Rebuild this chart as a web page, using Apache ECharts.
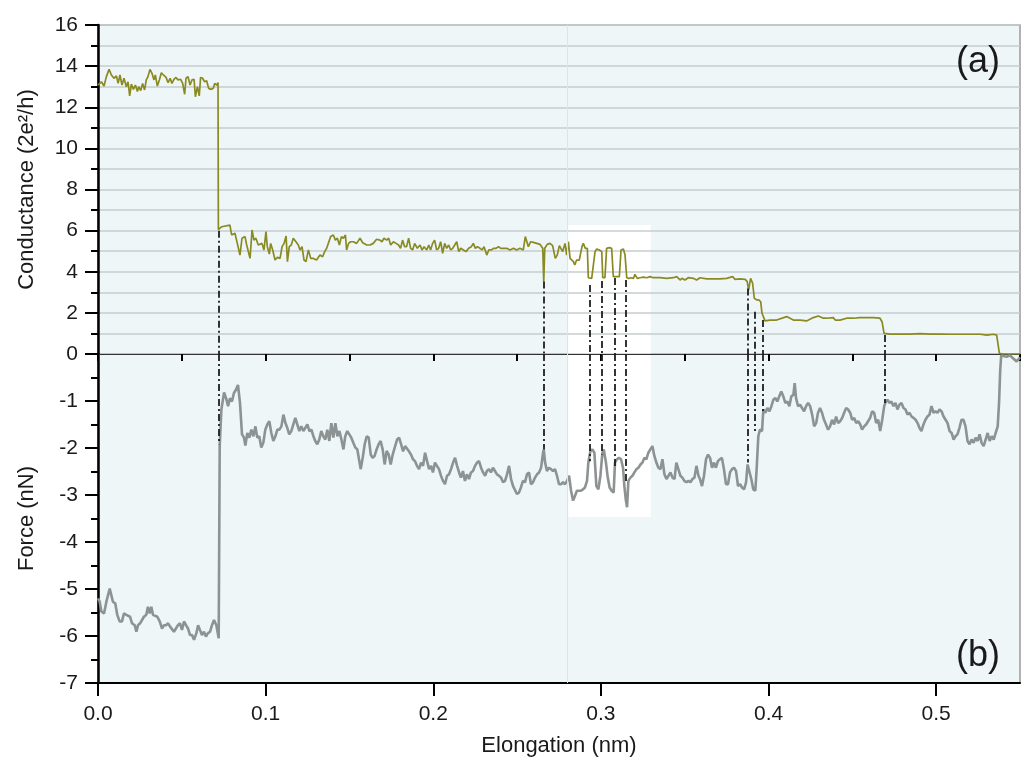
<!DOCTYPE html>
<html><head><meta charset="utf-8">
<script src="https://cdn.jsdelivr.net/npm/echarts@6/dist/echarts.min.js"></script>
<style>html,body{margin:0;padding:0;background:#fff}#c{width:1024px;height:769px}</style>
</head><body><div id="c"></div>
<script>
// Elongation (nm) vs conductance (2e^2/h)
const conductance = [
[0,13.08],[0.002,13.24],[0.0036,13.03],[0.005,13.49],[0.0066,13.84],[0.008,13.57],[0.0095,13.41],[0.011,13.52],[0.012,13.16],[0.0131,13.57],
[0.0143,13.08],[0.0155,13.41],[0.0169,13.0],[0.0179,13.24],[0.0189,12.55],[0.0199,13.13],[0.0211,12.87],[0.0223,13.08],[0.0235,12.76],[0.0243,13.0],
[0.0255,12.81],[0.0266,13.16],[0.0278,12.84],[0.0288,13.33],[0.0298,13.49],[0.031,13.84],[0.0322,13.65],[0.0334,13.33],[0.0342,13.57],[0.0354,13.03],
[0.0366,13.33],[0.0378,13.68],[0.039,13.57],[0.0406,13.45],[0.0418,13.2],[0.043,13.41],[0.0441,13.16],[0.0453,13.36],[0.0465,13.45],[0.0477,13.33],
[0.0493,13.36],[0.0505,13.16],[0.0517,12.63],[0.0525,13.41],[0.0537,13.49],[0.0549,13.08],[0.0561,13.33],[0.0573,13.36],[0.0581,12.51],[0.0593,13.0],
[0.0604,12.55],[0.0612,13.45],[0.0624,13.41],[0.0636,13.24],[0.0648,13.29],[0.066,12.92],[0.0676,12.87],[0.0688,12.92],[0.0696,13.16],[0.0708,13.08],
[0.0716,13.2],[0.0718,6.05],
[0.0724,6.11],[0.0738,6.19],[0.0787,6.27],[0.0797,5.79],[0.0817,5.87],[0.0831,5.38],[0.0847,4.81],[0.0859,5.63],[0.0877,5.71],[0.0887,5.30],
[0.0907,4.65],[0.0919,6.03],[0.093,5.54],[0.0942,5.63],[0.0956,5.30],[0.0966,5.22],[0.0978,5.38],[0.099,5.06],[0.1002,5.95],[0.101,5.22],
[0.1022,4.86],[0.103,5.38],[0.1042,5.06],[0.1056,4.57],[0.107,4.70],[0.1086,4.65],[0.1098,5.22],[0.111,5.38],[0.1122,5.74],[0.113,4.49],
[0.1141,5.22],[0.1153,5.30],[0.1165,5.63],[0.1181,5.46],[0.1195,5.30],[0.1205,5.06],[0.1217,5.22],[0.1229,4.57],[0.1241,4.49],[0.1255,5.06],
[0.1269,4.65],[0.1285,4.65],[0.1304,4.57],[0.1324,4.81],[0.134,4.73],[0.1352,4.98],[0.1364,5.14],[0.1374,5.38],[0.1388,5.71],[0.1404,5.79],
[0.1416,5.54],[0.1428,5.63],[0.144,5.30],[0.1452,5.71],[0.1464,5.63],[0.1476,5.79],[0.1483,5.06],[0.1495,5.38],[0.1507,5.46],[0.1523,5.46],
[0.1543,5.38],[0.1563,5.63],[0.1579,5.41],[0.1603,5.30],[0.1623,5.30],[0.1642,5.38],[0.1662,5.58],[0.1682,5.54],[0.1694,5.46],[0.1706,5.63],
[0.1722,5.54],[0.1734,5.63],[0.1746,5.30],[0.1762,5.46],[0.1778,5.38],[0.1793,5.30],[0.1805,5.14],[0.1817,5.54],[0.1829,5.22],[0.1841,5.22],
[0.1853,5.63],[0.1865,5.14],[0.1877,5.06],[0.1889,5.38],[0.1905,5.14],[0.1921,5.30],[0.1933,5.06],[0.1945,5.22],[0.1961,5.06],[0.1973,5.30],
[0.1984,5.06],[0.1996,5.38],[0.2008,5.54],[0.202,5.06],[0.2032,5.14],[0.2044,5.46],[0.2056,4.90],[0.2068,5.38],[0.208,5.14],[0.2092,5.30],
[0.2104,5.06],[0.2116,5.14],[0.2128,5.30],[0.214,5.46],[0.2152,4.98],[0.2164,5.14],[0.218,5.06],[0.2195,4.98],[0.2211,5.14],[0.2227,5.22],
[0.2239,5.38],[0.2251,5.14],[0.2263,5.22],[0.2279,5.14],[0.2291,5.06],[0.2303,5.22],[0.2319,4.81],[0.2331,5.06],[0.2347,5.06],[0.2359,5.14],
[0.2374,5.14],[0.239,5.22],[0.2402,5.14],[0.2418,5.14],[0.2438,5.14],[0.2458,5.06],[0.2478,5.14],[0.2497,5.06],[0.2517,5.14],[0.2537,5.06],
[0.2549,5.71],[0.2567,5.22],[0.2581,5.46],[0.2597,5.43],[0.2617,5.38],[0.2637,5.33],[0.2653,5.14],[0.2659,3.52],[0.2665,5.14],[0.268,5.33],
[0.2696,5.38],[0.2712,5.27],[0.2728,4.65],[0.274,4.82],[0.2752,5.27],
[0.2772,4.98],[0.2786,5.38],[0.2796,4.81],[0.2806,5.46],[0.2816,4.65],[0.2826,4.57],[0.2836,4.49],[0.2844,4.33],[0.2855,4.57],[0.2871,4.57],
[0.2879,4.49],[0.2887,5.22],[0.2895,5.38],[0.2907,5.14],[0.2919,5.14],[0.2925,3.71],[0.2945,3.68],[0.2955,3.68],[0.2965,4.98],[0.2975,5.11],
[0.2991,5.06],[0.3005,4.98],[0.3011,3.71],[0.3024,3.71],[0.3034,5.14],[0.305,5.17],[0.3064,5.14],[0.3074,3.76],[0.3094,3.76],[0.311,3.76],
[0.312,5.06],[0.3134,5.11],[0.3144,4.81],[0.3154,3.71],[0.3166,3.68],[0.3182,3.71],[0.3194,3.68],[0.3203,3.87],[0.3217,3.68],[0.3233,3.71],
[0.3253,3.74],[0.3273,3.71],[0.3293,3.76],[0.3313,3.71],[0.3352,3.71],[0.3392,3.68],[0.3432,3.71],[0.3452,3.76],[0.3472,3.60],[0.3484,3.68],
[0.3501,3.60],[0.3521,3.71],[0.3551,3.68],[0.3571,3.60],[0.3591,3.71],[0.3631,3.65],[0.367,3.65],[0.371,3.65],[0.375,3.68],[0.3786,3.76],
[0.38,3.63],[0.3829,3.65],[0.3861,3.63],[0.3873,3.52],[0.3881,3.11],[0.3893,3.68],[0.3905,3.44],[0.3915,2.71],[0.3929,2.63],[0.3941,2.63],
[0.3953,2.55],[0.3961,1.98],[0.3969,1.82],[0.3979,1.61],[0.4008,1.65],[0.4048,1.65],[0.4108,1.82],[0.4148,1.65],[0.4188,1.65],[0.4227,1.61],
[0.4267,1.77],[0.4297,1.85],[0.4327,1.74],[0.4347,1.74],[0.4386,1.77],[0.4398,1.65],[0.4426,1.65],[0.4466,1.74],[0.4506,1.74],[0.4545,1.77],
[0.4585,1.77],[0.4625,1.77],[0.4665,1.74],[0.4677,1.57],[0.4689,1.00],[0.4725,0.97],[0.4784,0.97],[0.4844,0.97],[0.4904,0.99],[0.4964,0.97],
[0.5023,0.97],[0.5083,0.96],[0.5143,0.96],[0.5202,0.96],[0.5262,0.96],[0.5302,0.92],[0.5342,0.96],[0.5361,0.92],[0.5377,0.03],[0.5401,0],[0.55,0]
];

// Elongation (nm) vs force (nN)
const force = [
[0,-5.20],[0.001,-5.27],[0.002,-5.48],[0.0036,-5.52],[0.005,-5.27],[0.006,-5.13],[0.007,-4.99],[0.008,-5.03],[0.0089,-5.27],[0.0103,-5.31],
[0.0115,-5.55],[0.0129,-5.69],[0.0143,-5.69],[0.0155,-5.52],[0.0169,-5.55],[0.0179,-5.52],[0.0191,-5.59],[0.0203,-5.73],[0.0219,-5.77],[0.0229,-5.91],
[0.0239,-5.77],[0.0251,-5.73],[0.0262,-5.75],[0.0274,-5.59],[0.0288,-5.55],[0.0298,-5.38],[0.0308,-5.52],[0.0318,-5.38],[0.0328,-5.55],[0.0338,-5.52],
[0.0354,-5.59],[0.0368,-5.69],[0.0382,-5.84],[0.0394,-5.77],[0.0406,-5.77],[0.0418,-5.73],[0.043,-5.80],[0.0441,-5.77],[0.0453,-5.91],[0.0465,-5.84],
[0.0477,-5.77],[0.0489,-5.73],[0.0501,-5.87],[0.0513,-5.69],[0.0525,-5.77],[0.0537,-5.84],[0.0549,-5.98],[0.0561,-5.98],[0.0573,-6.08],[0.0587,-5.94],
[0.0597,-5.77],[0.0608,-5.87],[0.062,-5.98],[0.0632,-5.91],[0.0644,-6.01],[0.0656,-5.94],[0.0668,-5.91],[0.068,-5.77],[0.0692,-5.66],[0.0706,-5.77],
[0.072,-6.05],[0.0726,-1.96],[0.0736,-1.18],[0.0752,-0.82],[0.0764,-0.94],[0.0776,-1.11],[0.0787,-0.94],[0.0799,-1.01],[0.0811,-0.83],[0.0823,-0.76],
[0.0835,-0.66],[0.0847,-1.04],[0.0859,-1.71],[0.0871,-1.78],[0.0879,-1.95],[0.0891,-1.68],[0.0903,-1.78],[0.0915,-1.61],[0.0927,-1.75],[0.0939,-1.54],
[0.095,-1.78],[0.0962,-1.75],[0.0974,-1.99],[0.0986,-1.89],[0.0998,-1.61],[0.101,-1.50],[0.1022,-1.43],[0.1034,-1.68],[0.1046,-1.85],[0.1058,-1.75],
[0.107,-1.61],[0.1082,-1.61],[0.1094,-1.54],[0.1106,-1.29],[0.1118,-1.47],[0.1129,-1.57],[0.1141,-1.71],[0.1153,-1.64],[0.1165,-1.50],[0.1177,-1.36],
[0.1189,-1.50],[0.1201,-1.64],[0.1213,-1.54],[0.1225,-1.64],[0.1237,-1.57],[0.1249,-1.50],[0.1261,-1.64],[0.1273,-1.61],[0.1285,-1.75],[0.1296,-1.85],
[0.1308,-1.92],[0.132,-1.82],[0.1332,-1.64],[0.1344,-1.75],[0.1356,-1.82],[0.1368,-1.61],[0.138,-1.85],[0.1392,-1.47],[0.1404,-1.78],[0.1416,-1.47],
[0.1428,-1.75],[0.144,-1.64],[0.1452,-1.82],[0.1464,-2.03],[0.1475,-1.75],[0.1487,-1.64],[0.1499,-1.71],[0.1511,-1.78],[0.1523,-1.89],[0.1535,-1.99],
[0.1547,-2.03],[0.1559,-2.28],[0.1567,-2.45],[0.1579,-2.21],[0.1591,-1.92],[0.1603,-1.75],[0.1615,-1.78],[0.1627,-2.14],[0.1638,-2.21],[0.165,-2.17],
[0.1662,-2.03],[0.1674,-1.92],[0.1686,-1.85],[0.1698,-2.03],[0.171,-2.35],[0.1722,-2.06],[0.1734,-2.14],[0.1746,-2.35],[0.1758,-2.14],[0.177,-1.99],
[0.1784,-1.82],[0.1796,-1.78],[0.1808,-1.92],[0.182,-2.07],[0.1832,-1.96],[0.1843,-1.92],[0.1855,-2.07],[0.1867,-2.14],[0.1879,-2.24],[0.1891,-2.28],
[0.1903,-2.38],[0.1915,-2.45],[0.1927,-2.31],[0.1939,-2.38],[0.1951,-2.10],[0.1963,-2.28],[0.1975,-2.45],[0.1987,-2.38],[0.1998,-2.52],[0.201,-2.31],
[0.2022,-2.38],[0.2034,-2.45],[0.2046,-2.59],[0.2058,-2.70],[0.207,-2.77],[0.2082,-2.59],[0.2094,-2.56],[0.2106,-2.45],[0.2118,-2.31],[0.213,-2.21],
[0.2142,-2.38],[0.2154,-2.52],[0.2165,-2.63],[0.2177,-2.49],[0.2189,-2.70],[0.2201,-2.56],[0.2213,-2.66],[0.2225,-2.52],[0.2237,-2.49],[0.2249,-2.38],
[0.2261,-2.31],[0.2273,-2.28],[0.2285,-2.42],[0.2297,-2.52],[0.2309,-2.59],[0.232,-2.49],[0.2332,-2.45],[0.2344,-2.52],[0.2356,-2.42],[0.2368,-2.49],
[0.238,-2.56],[0.2392,-2.59],[0.2404,-2.63],[0.2416,-2.73],[0.2428,-2.70],[0.244,-2.56],[0.2452,-2.38],[0.2464,-2.66],[0.2476,-2.81],[0.2487,-2.84],
[0.2499,-2.98],[0.2511,-2.95],[0.2523,-2.84],[0.2535,-2.70],[0.2547,-2.73],[0.2559,-2.56],[0.2571,-2.52],[0.2583,-2.77],[0.2595,-2.73],[0.2607,-2.63],
[0.2619,-2.56],[0.2631,-2.52],[0.2643,-2.42],[0.2655,-2.10],[0.2659,-2.03],[0.2667,-2.31],[0.2678,-2.49],[0.269,-2.42],[0.2702,-2.45],[0.2714,-2.49],
[0.2726,-2.45],[0.2738,-2.59],[0.275,-2.77],[0.2762,-2.77],[0.2774,-2.73],[0.2786,-2.77],[0.2798,-2.70],[0.281,-2.59],[0.2822,-2.91],[0.2834,-3.12],
[0.2845,-3.02],[0.2857,-2.91],[0.2869,-2.91],[0.2881,-2.91],[0.2893,-2.88],[0.2905,-2.84],[0.2917,-2.70],[0.2925,-2.31],[0.2937,-2.07],[0.2949,-2.03],
[0.2961,-2.10],[0.2973,-2.81],[0.2985,-2.88],[0.2997,-2.59],[0.3009,-2.10],[0.3017,-2.03],[0.3029,-2.28],[0.3041,-2.63],[0.3052,-2.84],[0.3064,-2.91],
[0.3076,-2.95],[0.3084,-2.31],[0.3096,-2.24],[0.3108,-2.21],[0.312,-2.24],[0.3132,-2.42],[0.314,-2.81],[0.3148,-3.09],[0.3156,-3.26],[0.3164,-2.70],
[0.3176,-2.63],[0.3188,-2.59],[0.32,-2.52],[0.3212,-2.45],[0.3224,-2.42],[0.3236,-2.35],[0.3248,-2.31],[0.3259,-2.21],[0.3271,-2.24],[0.3283,-2.10],
[0.3295,-2.03],[0.3307,-1.96],[0.3319,-2.17],[0.3331,-2.31],[0.3343,-2.42],[0.3355,-2.45],[0.3367,-2.24],[0.3379,-2.56],[0.3391,-2.66],[0.3403,-2.59],
[0.3415,-2.52],[0.3427,-2.63],[0.3439,-2.66],[0.345,-2.31],[0.3462,-2.45],[0.3474,-2.59],[0.3486,-2.63],[0.3498,-2.70],[0.351,-2.73],[0.3522,-2.70],
[0.3534,-2.73],[0.3546,-2.66],[0.3558,-2.63],[0.357,-2.38],[0.3582,-2.59],
[0.3591,-2.66],[0.3603,-2.81],[0.3615,-2.59],[0.3627,-2.24],[0.3639,-2.14],[0.3651,-2.21],[0.3663,-2.42],[0.3675,-2.31],[0.3686,-2.42],[0.3698,-2.28],
[0.371,-2.24],[0.3722,-2.21],[0.3734,-2.45],[0.3746,-2.77],[0.3758,-2.77],[0.377,-2.52],[0.3782,-2.45],[0.3794,-2.42],[0.3806,-2.49],[0.3818,-2.81],
[0.383,-2.77],[0.3842,-2.84],[0.3854,-2.88],[0.3866,-2.73],[0.3875,-2.35],[0.3885,-2.38],[0.3897,-2.66],[0.3909,-2.88],[0.3921,-2.91],[0.3929,-2.45],
[0.3939,-1.75],[0.3949,-1.61],[0.3961,-1.64],[0.3969,-1.18],[0.3981,-1.25],[0.3993,-1.15],[0.4005,-1.22],[0.4017,-1.11],[0.4029,-0.97],[0.4041,-0.94],
[0.4052,-1.01],[0.4064,-0.90],[0.4076,-0.80],[0.4088,-0.90],[0.41,-1.04],[0.4112,-1.01],[0.4124,-1.11],[0.4136,-0.90],[0.4148,-0.87],[0.4156,-0.62],
[0.4164,-0.94],[0.4176,-1.11],[0.4188,-1.08],[0.42,-1.15],[0.4212,-1.22],[0.4224,-1.11],[0.4236,-1.04],[0.4248,-1.11],[0.426,-1.29],[0.4272,-1.54],
[0.4284,-1.47],[0.4295,-1.25],[0.4307,-1.15],[0.4319,-1.25],[0.4331,-1.40],[0.4343,-1.50],[0.4355,-1.61],[0.4367,-1.54],[0.4379,-1.40],[0.4391,-1.50],
[0.4403,-1.33],[0.4415,-1.47],[0.4427,-1.43],[0.4439,-1.36],[0.4451,-1.25],[0.4463,-1.15],[0.4475,-1.18],[0.4487,-1.25],[0.4499,-1.40],[0.4511,-1.36],
[0.4523,-1.47],[0.4535,-1.43],[0.4547,-1.50],[0.4558,-1.61],[0.457,-1.54],[0.4582,-1.50],[0.4594,-1.43],[0.4606,-1.36],[0.4618,-1.22],[0.463,-1.25],
[0.4642,-1.47],[0.4654,-1.40],[0.4666,-1.64],[0.4678,-1.40],[0.469,-1.11],[0.4697,-1.04],[0.4709,-0.97],[0.4721,-1.04],[0.4733,-1.01],[0.4745,-1.11],
[0.4757,-1.04],[0.4769,-1.18],[0.4781,-1.08],[0.4793,-1.04],[0.4805,-1.15],[0.4817,-1.18],[0.4829,-1.29],[0.4841,-1.25],[0.4853,-1.33],[0.4865,-1.36],
[0.4877,-1.40],[0.4889,-1.47],[0.49,-1.57],[0.4912,-1.64],[0.4924,-1.50],[0.4936,-1.40],[0.4948,-1.33],[0.496,-1.29],[0.4972,-1.11],[0.4984,-1.25],
[0.4996,-1.22],[0.5008,-1.25],[0.502,-1.18],[0.5032,-1.22],[0.5044,-1.33],[0.5056,-1.40],[0.5068,-1.47],[0.508,-1.64],[0.5092,-1.68],[0.5104,-1.82],
[0.5115,-1.75],[0.5127,-1.71],[0.5139,-1.57],[0.5151,-1.40],[0.5163,-1.40],[0.5175,-1.54],[0.5187,-1.85],[0.5199,-1.92],[0.5211,-1.82],[0.5223,-1.89],
[0.5235,-1.78],[0.5247,-1.85],[0.5259,-1.71],[0.5271,-1.89],[0.5283,-1.96],[0.5295,-1.82],[0.5307,-1.68],[0.5319,-1.85],[0.5331,-1.75],[0.5343,-1.82],
[0.5355,-1.68],[0.5367,-1.54],[0.5375,-1.04],[0.5382,-0.34],[0.5388,-0.03],[0.5398,-0.06],[0.542,-0.06],[0.544,-0.03],[0.5458,-0.09],[0.548,-0.16],[0.55,-0.07]
];

// Dash-dot connectors: elongation, conductance at top end, force at bottom end
const stepX = [0.0719, 0.2659, 0.2931, 0.3005, 0.3084, 0.3150, 0.3873, 0.3919, 0.3965, 0.4695];
const stepG = [6.0, 3.52, 3.35, 3.55, 3.70, 3.60, 3.19, 2.06, 1.65, 0.92];
const stepF = [-1.92, -2.03, -2.28, -2.14, -2.42, -2.73, -2.31, -1.64, -1.25, -1.04];

// Highlighted window (elongation range, conductance top, force bottom)
const windowX = [0.2806, 0.3297];
const windowG = 6.27;
const windowF = -3.47;
const refLineX = 0.28;

const xMajor = [0, 0.1, 0.2, 0.3, 0.4, 0.5];

const FONT = '"Liberation Sans", Arial, Helvetica, sans-serif';
const TXT = '#1a1a1a';
const BG = '#eef6f8';

const chart = echarts.init(document.getElementById('c'));
const dashStyle = {type: [7, 3, 2, 3], color: '#1e1e1e', width: 1.8};

const option = {
  animation: false,
  textStyle: {fontFamily: FONT},
  grid: [
    {left: 98, top: 25, width: 922, height: 329, show: true, backgroundColor: BG, borderColor: '#9a9a9a', borderWidth: 1.5},
    {left: 98, top: 354, width: 922, height: 329, show: true, backgroundColor: BG, borderColor: '#9a9a9a', borderWidth: 1.5}
  ],
  xAxis: [
    {gridIndex: 0, type: 'value', min: 0, max: 0.55, z: 1.5,
     axisLine: {show: true, onZero: false, lineStyle: {color: '#333', width: 1.2}},
     axisTick: {show: false}, axisLabel: {show: false}, splitLine: {show: false}},
    {gridIndex: 1, type: 'value', min: 0, max: 0.55, interval: 0.1, position: 'bottom', z: 1.5,
     axisLine: {show: true, onZero: false, lineStyle: {color: '#000', width: 2}},
     axisTick: {show: true, length: 13, customValues: xMajor, lineStyle: {color: '#000', width: 2}},
     axisLabel: {show: true, customValues: xMajor, margin: 21, fontSize: 21, color: TXT, fontFamily: FONT,
                 formatter: v => v.toFixed(1)},
     splitLine: {show: false},
     name: 'Elongation (nm)', nameLocation: 'middle', nameGap: 52,
     nameTextStyle: {fontSize: 22, color: TXT, fontFamily: FONT}},
    {gridIndex: 1, type: 'value', min: 0, max: 0.55, interval: 0.05, position: 'bottom', z: 1.5,
     axisLine: {show: false}, axisLabel: {show: false}, splitLine: {show: false},
     axisTick: {show: true, length: 7, lineStyle: {color: '#000', width: 2}}}
  ],
  yAxis: [
    {gridIndex: 0, type: 'value', min: 0, max: 16, interval: 2, z: 1.5,
     axisLine: {show: true, onZero: false, lineStyle: {color: '#000', width: 2.5}},
     axisTick: {show: true, length: 13, lineStyle: {color: '#000', width: 2}},
     minorTick: {show: true, splitNumber: 2, length: 7, lineStyle: {color: '#000', width: 2}},
     axisLabel: {fontSize: 21, color: TXT, margin: 20, fontFamily: FONT},
     splitLine: {show: true, lineStyle: {color: '#c6cdd0', width: 1.5}},
     minorSplitLine: {show: true, lineStyle: {color: '#c6cdd0', width: 1.5}},
     name: 'Conductance (2e²/h)', nameLocation: 'middle', nameGap: 60, nameRotate: 90,
     nameTextStyle: {fontSize: 22, color: TXT, fontFamily: FONT}},
    {gridIndex: 1, type: 'value', min: -7, max: 0, interval: 1, z: 1.5,
     axisLine: {show: true, onZero: false, lineStyle: {color: '#000', width: 2.5}},
     axisTick: {show: true, length: 13, lineStyle: {color: '#000', width: 2}},
     minorTick: {show: true, splitNumber: 2, length: 7, lineStyle: {color: '#000', width: 2}},
     axisLabel: {fontSize: 21, color: TXT, margin: 20, showMaxLabel: false, fontFamily: FONT},
     splitLine: {show: false},
     name: 'Force (nN)', nameLocation: 'middle', nameGap: 60, nameRotate: 90,
     nameTextStyle: {fontSize: 22, color: TXT, fontFamily: FONT}}
  ],
  series: [
    {type: 'line', xAxisIndex: 0, yAxisIndex: 0, z: 1, data: [[windowX[0], 0]], symbol: 'none', lineStyle: {opacity: 0}, silent: true,
     markArea: {silent: true, itemStyle: {color: '#ffffff'}, data: [[{coord: [windowX[0], 0]}, {coord: [windowX[1], windowG]}]]},
     markLine: {silent: true, symbol: ['none', 'none'], label: {show: false}, lineStyle: {color: '#dbe6ea', width: 1, type: 'solid'}, data: [{xAxis: refLineX}]}},
    {type: 'line', xAxisIndex: 1, yAxisIndex: 1, z: 1, data: [[windowX[0], 0]], symbol: 'none', lineStyle: {opacity: 0}, silent: true,
     markArea: {silent: true, itemStyle: {color: '#ffffff'}, data: [[{coord: [windowX[0], windowF]}, {coord: [windowX[1], 0]}]]},
     markLine: {silent: true, symbol: ['none', 'none'], label: {show: false}, lineStyle: {color: '#dbe6ea', width: 1, type: 'solid'}, data: [{xAxis: refLineX}]}},
    {type: 'line', name: 'Conductance', xAxisIndex: 0, yAxisIndex: 0, z: 3, data: conductance, showSymbol: false, symbol: 'none',
     lineStyle: {color: '#8a8a22', width: 1.7}, itemStyle: {color: '#8a8a22'},
     markLine: {silent: true, symbol: ['none', 'none'], label: {show: false}, lineStyle: dashStyle,
       data: stepX.map((x, i) => [{coord: [x, stepG[i]]}, {coord: [x, 0]}])}},
    {type: 'line', name: 'Force', xAxisIndex: 1, yAxisIndex: 1, z: 3, data: force, showSymbol: false, symbol: 'none',
     lineStyle: {color: '#8d9292', width: 2.6}, itemStyle: {color: '#8d9292'},
     markLine: {silent: true, symbol: ['none', 'none'], label: {show: false}, lineStyle: dashStyle,
       data: stepX.map((x, i) => [{coord: [x, 0]}, {coord: [x, stepF[i]]}])}}
  ],
  graphic: [
    {type: 'text', left: 956, top: 44, z: 10, style: {text: '(a)', fontSize: 36, fill: TXT, fontFamily: FONT}},
    {type: 'text', left: 956, top: 638, z: 10, style: {text: '(b)', fontSize: 36, fill: TXT, fontFamily: FONT}}
  ]
};
chart.setOption(option);
</script>
</body></html>
